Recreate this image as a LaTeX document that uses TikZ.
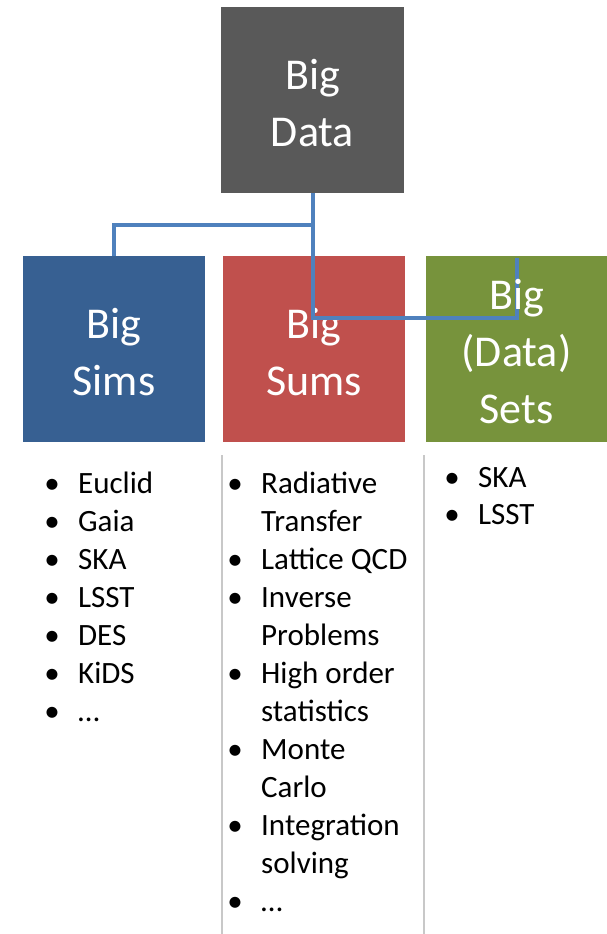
\documentclass[tikz,border=0pt]{standalone}
\usepackage{fontspec}
\setmainfont{Carlito}
\definecolor{cdata}{HTML}{595959}
\definecolor{csims}{HTML}{376092}
\definecolor{csums}{HTML}{C0504D}
\definecolor{csets}{HTML}{77933C}
\definecolor{cconn}{HTML}{4F81BD}
\definecolor{csep}{HTML}{C8C8C8}
\newcommand\bul{\llap{\makebox[52pt]{•}}}
\tikzset{
  bigbox/.style={draw=none, fill=#1, inner sep=0pt, minimum height=186pt},
  boxtext/.style={text=white, align=center, inner sep=0pt, font=\fontsize{44}{57}\selectfont},
  conn/.style={draw=cconn, line width=4pt, line join=miter},
  sepline/.style={draw=csep, line width=1.6pt},
  item/.style={anchor=base west, inner sep=0pt, font=\fontsize{31}{38}\selectfont, text=black}
}
\begin{document}
\begin{tikzpicture}[x=1pt,y=-1pt]
\useasboundingbox (0,0) rectangle (607,934);
% boxes
\node[bigbox=cdata, minimum width=183pt] (data) at (312.5,100) {};
\node[bigbox=csims, minimum width=182pt] (sims) at (114,349) {};
\node[bigbox=csums, minimum width=182pt] (sums) at (314,349) {};
\node[bigbox=csets, minimum width=181pt] (sets) at (516.5,349) {};
\node[boxtext] (datat) at ([yshift=-3pt]data.center) {Big\\Data};
\node[boxtext] (simst) at ([yshift=-3pt]sims.center) {Big\\Sims};
\node[boxtext] (sumst) at ([yshift=-3pt]sums.center) {Big\\Sums};
% connectors
\coordinate (h1) at (0,225);
\coordinate (h2) at (0,318);
\draw[conn] (data.south) -- (data.south |- h1) -| (sims.north);
\draw[conn] (data.south |- h1) -- (data.south |- h2) -| ([yshift=-2pt]sets.north);
\node[boxtext] (setst) at ([yshift=-3pt]sets.center) {Big\\(Data)\\Sets};
% separators
\coordinate (s1t) at (222,455);
\coordinate (s1b) at (222,934);
\coordinate (s2t) at (424,455);
\coordinate (s2b) at (424,934);
\draw[sepline] (s1t) -- (s1b);
\draw[sepline] (s2t) -- (s2b);
% left list
\node[item] (a1) at (78,493) {\bul Euclid};
\node[item] (a2) at (78,531) {\bul Gaia};
\node[item] (a3) at (78,569) {\bul SKA};
\node[item] (a4) at (78,607) {\bul LSST};
\node[item] (a5) at (78,645) {\bul DES};
\node[item] (a6) at (78,683) {\bul KiDS};
\node[item] (a7) at (78,721) {\bul …};
% middle list
\node[item] (b1) at (261,493) {\bul Radiative};
\node[item] (b2) at (261,531) {Transfer};
\node[item] (b3) at (261,569) {\bul Lattice QCD};
\node[item] (b4) at (261,607) {\bul Inverse};
\node[item] (b5) at (261,645) {Problems};
\node[item] (b6) at (261,683) {\bul High order};
\node[item] (b7) at (261,721) {statistics};
\node[item] (b8) at (261,759) {\bul Monte};
\node[item] (b9) at (261,797) {Carlo};
\node[item] (b10) at (261,835) {\bul Integration};
\node[item] (b11) at (261,873) {solving};
\node[item] (b12) at (261,911) {\bul …};
% right list
\node[item] (c1) at (478,487) {\bul SKA};
\node[item] (c2) at (478,524) {\bul LSST};
\end{tikzpicture}
\end{document}
